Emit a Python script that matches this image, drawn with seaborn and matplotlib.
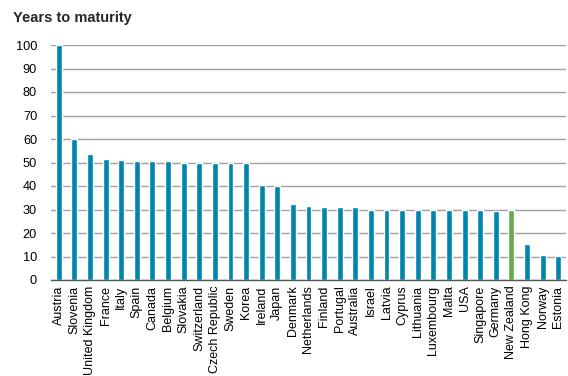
import matplotlib
matplotlib.use("Agg")
import matplotlib.pyplot as plt
import seaborn as sns
import pandas as pd
import numpy as np

countries = ["Austria", "Slovenia", "United Kingdom", "France", "Italy", "Spain",
             "Canada", "Belgium", "Slovakia", "Switzerland", "Czech Republic",
             "Sweden", "Korea", "Ireland", "Japan", "Denmark", "Netherlands",
             "Finland", "Portugal", "Australia", "Israel", "Latvia", "Cyprus",
             "Lithuania", "Luxembourg", "Malta", "USA", "Singapore", "Germany",
             "New Zealand", "Hong Kong", "Norway", "Estonia"]
years = [100, 60, 53.5, 51.5, 51, 50.5, 50.5, 50.5, 50, 50, 50, 50, 50,
         40.5, 40, 32.5, 31.5, 31.2, 31.2, 30.9, 30, 30, 30, 30, 30, 30, 30,
         30, 29.4, 30, 15.2, 10.6, 10.2]
highlight = "New Zealand"
yticks = [0, 10, 20, 30, 40, 50, 60, 70, 80, 90, 100]

BLUE = "#0085AD"
GREEN = "#6AAA4E"

df = pd.DataFrame({"country": countries, "years": years})
palette = {c: (GREEN if c == highlight else BLUE) for c in countries}

sns.set_style("white")
plt.rcParams["font.family"] = ["Liberation Sans", "DejaVu Sans"]

fig = plt.figure(figsize=(5.68, 3.76), dpi=100)
ax = fig.add_axes([51 / 568, 96 / 376, 515 / 568, 235 / 376])

sns.barplot(data=df, x="country", y="years", hue="country", palette=palette,
            legend=False, width=0.38, saturation=1, ax=ax, zorder=3)

n = len(countries)
ax.set_xlim(-0.5, n - 0.5)
ax.set_ylim(0, 100)
ax.set_yticks(yticks)
ax.set_yticklabels([str(v) for v in yticks], fontsize=9.2, color="#000000")
ax.yaxis.grid(True, color="#A0A0A0", linewidth=1.0, zorder=0)
ax.set_axisbelow(True)
ax.tick_params(axis="y", length=0, pad=10)

ax.set_xticks(range(n))
ax.set_xticklabels(countries, rotation=90, fontsize=9.0, color="#000000")
ax.tick_params(axis="x", which="major", length=0, pad=4)
ax.set_xticks(np.arange(-0.5, n, 1.0), minor=True)
ax.tick_params(axis="x", which="minor", length=4, width=1, color="#555555",
               direction="out")

for side in ["top", "right", "left"]:
    ax.spines[side].set_visible(False)
ax.spines["bottom"].set_color("#555555")
ax.spines["bottom"].set_linewidth(1)
ax.spines["bottom"].set_zorder(4)

ax.set_xlabel("")
ax.set_ylabel("")

fig.text(13 / 568, 1 - 18 / 376, "Years to maturity", fontsize=10.5,
         fontweight="bold", ha="left", va="center")

fig.savefig("out.png", dpi=100)
